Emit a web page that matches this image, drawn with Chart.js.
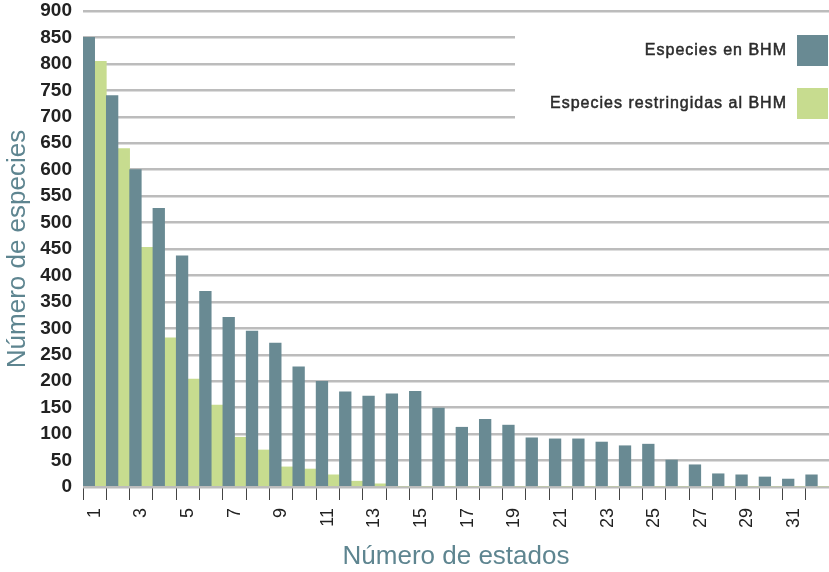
<!DOCTYPE html>
<html>
<head>
<meta charset="utf-8">
<script src="https://cdn.jsdelivr.net/npm/chart.js@4.4.1/dist/chart.umd.min.js"></script>
<style>
  body { margin: 0; background: #fff; }
  #wrap { width: 829px; height: 572px; }
</style>
</head>
<body>
<div id="wrap"><canvas id="canvas" width="829" height="572"></canvas></div>
<script>
'use strict';

// numero de estados
var estados = ['1', '2', '3', '4', '5', '6', '7', '8', '9', '10', '11', '12', '13', '14', '15', '16',
    '17', '18', '19', '20', '21', '22', '23', '24', '25', '26', '27', '28', '29', '30', '31', '32'];

var especiesBHM = [850, 740, 600, 527, 437, 370, 321, 295, 272, 227, 200, 180, 172, 176, 181, 149,
    113, 128, 117, 93, 91, 91, 85, 78, 81, 51, 42, 25, 23, 19, 15, 23];

var restringidasBHM = [805, 640, 453, 282, 204, 155, 94, 70, 38, 34, 23, 11, 6, 0, 0, 0,
    0, 0, 0, 0, 0, 0, 0, 0, 0, 0, 0, 0, 0, 0, 0, 0];

var TEAL = '#698a93';
var GREEN = '#c7dc8f';
var TITLE = '#5e8590';
var FONT = "'Liberation Sans', Arial, sans-serif";

// legend drawn inside the plot, over a white patch that hides the grid
var legendBox = {
    id: 'legendBox',
    beforeDatasetsDraw: function (chart) {
        var ctx = chart.ctx;
        ctx.save();
        ctx.fillStyle = '#fff';
        ctx.fillRect(515, 24, 314, 108);
        ctx.font = '16px ' + FONT;
        ctx.letterSpacing = '1px';
        ctx.textAlign = 'right';
        ctx.textBaseline = 'middle';
        chart.data.datasets.forEach(function (ds, i) {
            var y = 51 + i * 53;
            ctx.fillStyle = '#2b2b2b';
            ctx.fillText(ds.label, 787, y);
            ctx.lineWidth = 0.5;
            ctx.strokeStyle = '#2b2b2b';
            ctx.strokeText(ds.label, 787, y);
            ctx.fillStyle = ds.backgroundColor;
            ctx.fillRect(797, y - 16, 31, 31);
        });
        ctx.restore();
    }
};

var ctx = document.getElementById('canvas').getContext('2d');
window.myBar = new Chart(ctx, {
    type: 'bar',
    data: {
        labels: estados,
        datasets: [{
            label: 'Especies en BHM',
            backgroundColor: TEAL,
            data: especiesBHM
        }, {
            label: 'Especies restringidas al BHM',
            backgroundColor: GREEN,
            data: restringidasBHM
        }]
    },
    options: {
        responsive: false,
        animation: false,
        layout: { padding: { top: 11, right: 0, left: 0, bottom: 0 } },
        plugins: {
            legend: { display: false },
            tooltip: { enabled: false }
        },
        datasets: {
            bar: { barPercentage: 1, categoryPercentage: 1 }
        },
        scales: {
            x: {
                grid: {
                    drawOnChartArea: false,
                    drawTicks: true,
                    tickLength: 13,
                    color: '#444',
                    lineWidth: 1
                },
                border: { display: false },
                ticks: {
                    autoSkip: false,
                    minRotation: 90,
                    maxRotation: 90,
                    padding: 8,
                    color: '#222',
                    font: { family: FONT, size: 18 },
                    callback: function (value, index) {
                        return index % 2 === 0 ? this.getLabelForValue(value) : '';
                    }
                },
                title: {
                    display: true,
                    text: 'Número de estados',
                    color: TITLE,
                    font: { family: FONT, size: 26 },
                    padding: { top: 0, bottom: 0 }
                },
                afterFit: function (scale) {
                    scale.height = 85;
                    scale.paddingLeft = 0;
                    scale.paddingRight = 0;
                }
            },
            y: {
                min: 0,
                max: 900,
                ticks: {
                    stepSize: 50,
                    padding: 11,
                    color: '#222',
                    font: { family: FONT, size: 19, weight: 'bold' }
                },
                grid: {
                    color: '#bcbcbc',
                    lineWidth: 2.5,
                    drawTicks: false
                },
                border: { display: false },
                title: {
                    display: true,
                    text: 'Número de especies',
                    color: TITLE,
                    font: { family: FONT, size: 26 },
                    padding: { top: 2, bottom: 0 }
                },
                afterFit: function (scale) {
                    scale.width = 83;
                    scale.paddingTop = 0;
                    scale.paddingBottom = 0;
                }
            }
        }
    },
    plugins: [legendBox]
});
</script>
</body>
</html>
